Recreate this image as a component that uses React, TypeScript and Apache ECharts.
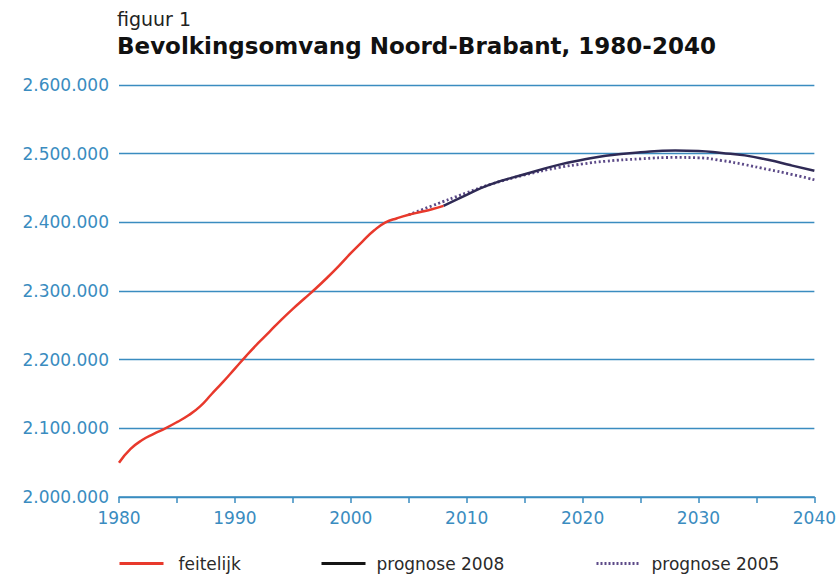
import React, { useEffect, useRef } from "react";
import * as echarts from "echarts";

const feitelijkYears = [1980, 1981, 1982, 1983, 1984, 1985, 1986, 1987, 1988, 1989, 1990, 1991, 1992, 1993, 1994, 1995, 1996, 1997, 1998, 1999, 2000, 2001, 2002, 2003, 2004, 2005, 2006, 2007, 2008];
const feitelijkValues = [2050000, 2070000, 2083000, 2092000, 2100000, 2109000, 2119000, 2132000, 2150000, 2168000, 2187000, 2206000, 2224000, 2241000, 2258000, 2274000, 2289000, 2304000, 2320000, 2337000, 2355000, 2372000, 2388000, 2400000, 2406000, 2411000, 2415000, 2419000, 2424000];

const prognose2008Years = [2008, 2010, 2012, 2015, 2018, 2020, 2022, 2025, 2028, 2030, 2032, 2034, 2036, 2038, 2040];
const prognose2008Values = [2424000, 2440000, 2455000, 2470000, 2484000, 2491000, 2497000, 2502000, 2504500, 2504000, 2501000, 2497500, 2491000, 2483000, 2475000];

const prognose2005Years = [2005, 2007, 2010, 2012, 2015, 2018, 2020, 2022, 2025, 2028, 2030, 2032, 2034, 2036, 2038, 2040];
const prognose2005Values = [2411000, 2424000, 2443000, 2455000, 2469000, 2480000, 2485000, 2489000, 2492500, 2494500, 2494000, 2490000, 2484000, 2477000, 2470000, 2462000];

const seriesNames = ["feitelijk", "prognose 2008", "prognose 2005"];
const titleSmall = "figuur 1";
const titleMain = "Bevolkingsomvang Noord-Brabant, 1980-2040";

const BLUE = "#3a8cc0";
const FONT = "'DejaVu Sans', sans-serif";

const pairs = (xs: number[], ys: number[]) => xs.map((x, i) => [x, ys[i]]);
const fmt = (v: number) => String(Math.round(v)).replace(/\B(?=(\d{3})+(?!\d))/g, ".");

export default function App() {
  const ref = useRef<HTMLDivElement>(null);
  useEffect(() => {
    if (!ref.current) return;
    const chart = echarts.init(ref.current, null, { renderer: "svg" });
    const legendText = { color: "#2a2a2a", fontSize: 17, fontFamily: FONT };
    const legendBase = {
      top: 555,
      padding: 0,
      itemWidth: 44,
      itemHeight: 14,
      itemGap: 0,
      itemStyle: { opacity: 0 },
    };
    chart.setOption({
      animation: false,
      backgroundColor: "#ffffff",
      title: [
        {
          text: titleSmall,
          left: 117,
          top: 9,
          padding: 0,
          textStyle: { fontFamily: FONT, fontSize: 19, fontWeight: "normal", color: "#222" },
        },
        {
          text: titleMain,
          left: 117,
          top: 34,
          padding: 0,
          textStyle: { fontFamily: FONT, fontSize: 23, fontWeight: "bold", color: "#111" },
        },
      ],
      legend: [
        {
          ...legendBase,
          data: [seriesNames[0]],
          left: 118,
          lineStyle: { width: 3 },
          textStyle: { ...legendText, padding: [0, 0, 0, 10] },
        },
        {
          ...legendBase,
          data: [seriesNames[1]],
          left: 320,
          lineStyle: { color: "#151515", width: 3 },
          textStyle: { ...legendText, padding: [0, 0, 0, 6] },
        },
        {
          ...legendBase,
          data: [seriesNames[2]],
          left: 595,
          lineStyle: { width: 3, type: [2, 2] },
          textStyle: { ...legendText, padding: [0, 0, 0, 6] },
        },
      ],
      grid: { left: 119, right: 23, top: 85, bottom: 77, containLabel: false },
      xAxis: {
        type: "value",
        min: 1980,
        max: 2040,
        interval: 5,
        axisLine: { show: true, lineStyle: { color: BLUE, width: 1.5 } },
        axisTick: { show: true, length: 6, lineStyle: { color: BLUE, width: 1.5 } },
        splitLine: { show: false },
        axisLabel: {
          color: BLUE,
          fontFamily: FONT,
          fontSize: 17,
          margin: 12,
          formatter: (v: number) => (v % 10 === 0 ? String(v) : ""),
        },
      },
      yAxis: {
        type: "value",
        min: 2000000,
        max: 2600000,
        interval: 100000,
        axisLine: { show: false },
        axisTick: { show: false },
        splitLine: { show: true, lineStyle: { color: BLUE, width: 1.3 } },
        axisLabel: {
          color: BLUE,
          fontFamily: FONT,
          fontSize: 17,
          margin: 10,
          formatter: (v: number) => fmt(v),
        },
      },
      series: [
        {
          name: seriesNames[2],
          type: "line",
          data: pairs(prognose2005Years, prognose2005Values),
          smooth: true,
          showSymbol: false,
          symbol: "none",
          lineStyle: { color: "#5c4a88", width: 2.8, type: [2, 2.5] },
          itemStyle: { color: "#5c4a88" },
          z: 2,
        },
        {
          name: seriesNames[1],
          type: "line",
          data: pairs(prognose2008Years, prognose2008Values),
          smooth: true,
          showSymbol: false,
          symbol: "none",
          lineStyle: { color: "#2f2a55", width: 2.5 },
          itemStyle: { color: "#1a1a1a" },
          z: 3,
        },
        {
          name: seriesNames[0],
          type: "line",
          data: pairs(feitelijkYears, feitelijkValues),
          smooth: true,
          showSymbol: false,
          symbol: "none",
          lineStyle: { color: "#e8392c", width: 2.5 },
          itemStyle: { color: "#e8392c" },
          z: 4,
        },
      ],
    });
    return () => chart.dispose();
  }, []);
  return <div ref={ref} style={{ width: 839, height: 574, position: "absolute", left: 0, top: 0 }} />;
}
